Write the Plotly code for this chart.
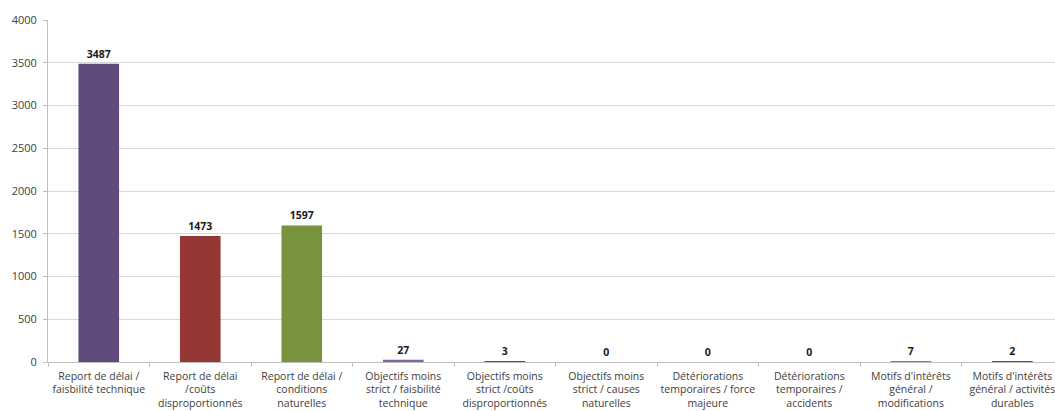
import plotly.graph_objects as go

categories = [
    "Report de délai /<br>faisbilité technique",
    "Report de délai<br>/coûts<br>disproportionnés",
    "Report de délai /<br>conditions<br>naturelles",
    "Objectifs moins<br>strict / faisbilité<br>technique",
    "Objectifs moins<br>strict /coûts<br>disproportionnés",
    "Objectifs moins<br>strict / causes<br>naturelles",
    "Détériorations<br>temporaires / force<br>majeure",
    "Détériorations<br>temporaires /<br>accidents",
    "Motifs d'intérêts<br>général /<br>modifications",
    "Motifs d'intérêts<br>général / activités<br>durables",
]
values = [3487, 1473, 1597, 27, 3, 0, 0, 0, 7, 2]
bar_colors = ["#604A7B", "#953735", "#77933C", "#7B66A6", "#953735",
              "#77933C", "#604A7B", "#953735", "#77933C", "#604A7B"]

font_family = "Open Sans, Noto Sans, sans-serif"

fig = go.Figure(
    go.Bar(
        x=categories,
        y=values,
        marker=dict(color=bar_colors, line=dict(width=0)),
        width=0.4,
        text=values,
        texttemplate="<b>%{text}</b>",
        textposition="outside",
        textfont=dict(size=10.5, color="#1a1a1a", family=font_family),
        cliponaxis=False,
    )
)

fig.update_layout(
    width=1055,
    height=411,
    margin=dict(l=48, r=0, t=20, b=49),
    paper_bgcolor="white",
    plot_bgcolor="white",
    showlegend=False,
    font=dict(family=font_family, size=11, color="#404040"),
)

fig.update_xaxes(
    type="category",
    range=[-0.5, 9.42],
    tickson="boundaries",
    ticks="outside",
    ticklen=4,
    tickcolor="#BFBFBF",
    showline=True,
    linecolor="#BFBFBF",
    linewidth=1,
    showgrid=False,
    tickangle=0,
    ticklabelstandoff=4,
    tickfont=dict(size=10.5, color="#404040"),
)

fig.update_yaxes(
    range=[0, 4000],
    tickvals=[0, 500, 1000, 1500, 2000, 2500, 3000, 3500, 4000],
    ticks="outside",
    ticklen=4,
    tickcolor="#BFBFBF",
    showline=True,
    linecolor="#BFBFBF",
    linewidth=1,
    showgrid=True,
    gridcolor="#D9D9D9",
    gridwidth=1,
    zeroline=False,
    ticklabelstandoff=4,
    tickfont=dict(size=11, color="#404040"),
)

fig.write_html("out.html")
